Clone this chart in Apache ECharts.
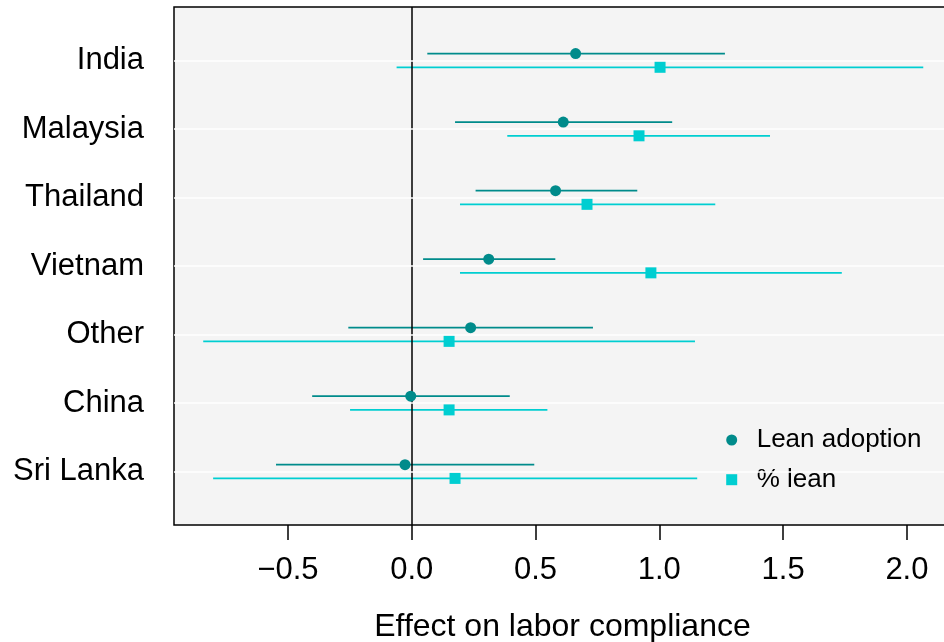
<!DOCTYPE html>
<html>
<head>
<meta charset="utf-8">
<script src="https://cdn.jsdelivr.net/npm/echarts@6/dist/echarts.min.js"></script>
<style>
html,body{margin:0;padding:0;background:#fff;}
#chart{width:944px;height:642px;}
</style>
</head>
<body>
<div id="chart"></div>
<script>
const categories = ['India', 'Malaysia', 'Thailand', 'Vietnam', 'Other', 'China', 'Sri Lanka'];
const leanEst = [0.662, 0.612, 0.581, 0.311, 0.238, -0.004, -0.027];
const leanLo  = [0.063, 0.175, 0.258, 0.046, -0.256, -0.402, -0.548];
const leanHi  = [1.265, 1.052, 0.911, 0.580, 0.732, 0.396, 0.495];
const pctEst  = [1.003, 0.918, 0.708, 0.966, 0.151, 0.151, 0.175];
const pctLo   = [-0.061, 0.386, 0.195, 0.195, -0.842, -0.249, -0.802];
const pctHi   = [2.066, 1.447, 1.226, 1.737, 1.144, 0.548, 1.153];
const xTicks  = [-0.5, 0, 0.5, 1, 1.5, 2];
const seriesNames = ['Lean adoption', '% lean'];

const FONT = "'Liberation Sans', Arial, Helvetica, sans-serif";
const C_LEAN = '#008B8B';
const C_PCT = '#00CED1';
const n = categories.length;
const rowPos = i => n - i;           // India at top
const OFF = 0.1;
const rowValues = categories.map((c, i) => rowPos(i));

function barData(lo, hi, off) {
  return categories.map((c, i) => [lo[i], hi[i], rowPos(i) + off]);
}
function pointData(est, off) {
  return categories.map((c, i) => [est[i], rowPos(i) + off]);
}
function fmtX(v) {
  const s = Number(v).toFixed(1);
  return v < 0 ? '\u2212' + s.slice(1) : s;
}
function barSeries(data, color) {
  return {
    type: 'custom',
    silent: true,
    z: 2,
    data: data,
    encode: { x: [0, 1], y: 2 },
    renderItem: function (params, api) {
      const p1 = api.coord([api.value(0), api.value(2)]);
      const p2 = api.coord([api.value(1), api.value(2)]);
      return {
        type: 'line',
        shape: { x1: p1[0], y1: p1[1], x2: p2[0], y2: p2[1] },
        style: { stroke: color, lineWidth: 1.8 }
      };
    }
  };
}

const chart = echarts.init(document.getElementById('chart'), null, { renderer: 'canvas' });
chart.setOption({
  animation: false,
  backgroundColor: '#ffffff',
  textStyle: { fontFamily: FONT },
  grid: {
    left: 174, top: 7, width: 777, height: 518,
    outerBoundsMode: 'none', containLabel: false,
    show: true, backgroundColor: '#f4f4f4', borderColor: '#000', borderWidth: 1.5
  },
  legend: {
    orient: 'vertical',
    left: 726.2, top: 427, padding: 0,
    itemWidth: 40, itemHeight: 11, itemGap: 13.7,
    symbolKeepAspect: true,
    textStyle: { fontSize: 26, color: '#000', fontFamily: FONT },
    data: [
      { name: seriesNames[0], icon: 'circle' },
      { name: seriesNames[1], icon: 'path://M0 0H10V10H0Z' }
    ],
    selectedMode: false
  },
  xAxis: {
    type: 'value',
    min: -0.96, max: 2.178,
    name: 'Effect on labor compliance',
    nameLocation: 'middle', nameGap: 86,
    nameTextStyle: { fontSize: 32, color: '#000', fontFamily: FONT },
    axisLine: { show: false },
    splitLine: { show: false },
    axisTick: { show: true, length: 15, customValues: xTicks, lineStyle: { color: '#000', width: 1.5 } },
    axisLabel: { customValues: xTicks, fontSize: 31, color: '#000', margin: 30, formatter: fmtX, fontFamily: FONT }
  },
  yAxis: {
    type: 'value',
    min: 0.22, max: 7.78,
    axisLine: { show: false },
    splitLine: { show: false },
    axisTick: { show: false },
    axisLabel: {
      customValues: rowValues, fontSize: 31, color: '#000', margin: 30, fontFamily: FONT,
      padding: [4, 0, 0, 0],
      formatter: v => categories[n - Math.round(v)]
    }
  },
  series: [
    {
      type: 'line', data: [], silent: true, z: 1,
      markLine: {
        silent: true, symbol: 'none', animation: false,
        label: { show: false },
        lineStyle: { color: '#ffffff', width: 1.5, type: 'solid' },
        data: rowValues.map(v => ({ yAxis: v }))
      }
    },
    barSeries(barData(leanLo, leanHi, OFF), C_LEAN),
    barSeries(barData(pctLo, pctHi, -OFF), C_PCT),
    {
      type: 'line', data: [], silent: true, z: 3,
      markLine: {
        silent: true, symbol: 'none', animation: false, z: 3,
        label: { show: false },
        lineStyle: { color: '#000', width: 1.5, type: 'solid' },
        data: [{ xAxis: 0 }]
      }
    },
    {
      name: seriesNames[0], type: 'scatter', z: 5,
      symbol: 'circle', symbolSize: 11,
      itemStyle: { color: C_LEAN, opacity: 1 },
      data: pointData(leanEst, OFF)
    },
    {
      name: seriesNames[1], type: 'scatter', z: 5,
      symbol: 'rect', symbolSize: 11,
      itemStyle: { color: C_PCT, opacity: 1 },
      data: pointData(pctEst, -OFF)
    }
  ]
});
</script>
</body>
</html>
